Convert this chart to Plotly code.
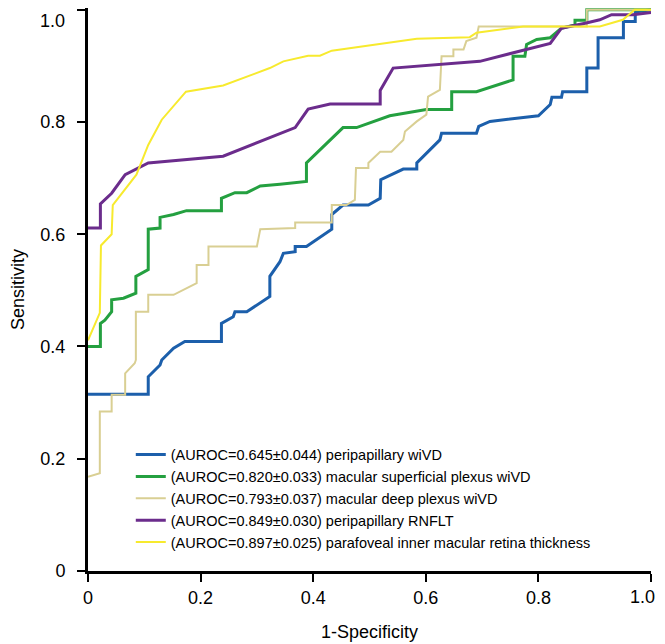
import plotly.graph_objects as go

# ---- data (1-Specificity, Sensitivity) ----
blue_x = [0, 0.107, 0.107, 0.128, 0.131, 0.152, 0.172, 0.237, 0.237, 0.258, 0.261, 0.282, 0.323, 0.323, 0.341, 0.347, 0.368, 0.368, 0.388, 0.433, 0.433, 0.453, 0.498, 0.519, 0.520, 0.560, 0.584, 0.584, 0.625, 0.628, 0.690, 0.694, 0.714, 0.800, 0.821, 0.824, 0.841, 0.843, 0.886, 0.886, 0.906, 0.906, 0.951, 0.951, 0.972, 0.972, 1.0]
blue_y = [0.315, 0.315, 0.346, 0.367, 0.376, 0.397, 0.409, 0.409, 0.441, 0.453, 0.462, 0.462, 0.489, 0.525, 0.551, 0.566, 0.569, 0.578, 0.578, 0.609, 0.635, 0.652, 0.652, 0.664, 0.697, 0.716, 0.716, 0.727, 0.768, 0.780, 0.780, 0.792, 0.801, 0.811, 0.831, 0.844, 0.844, 0.854, 0.854, 0.896, 0.896, 0.950, 0.950, 0.979, 0.979, 0.996, 1.0]

green_x = [0, 0.022, 0.022, 0.030, 0.042, 0.042, 0.063, 0.085, 0.085, 0.107, 0.107, 0.128, 0.128, 0.152, 0.175, 0.237, 0.237, 0.261, 0.282, 0.306, 0.341, 0.388, 0.388, 0.453, 0.477, 0.536, 0.601, 0.646, 0.646, 0.690, 0.755, 0.755, 0.776, 0.779, 0.797, 0.821, 0.841, 0.865, 0.865, 0.886, 0.886, 1.0]
green_y = [0.400, 0.400, 0.441, 0.447, 0.462, 0.483, 0.486, 0.495, 0.525, 0.537, 0.609, 0.611, 0.630, 0.635, 0.642, 0.642, 0.664, 0.674, 0.674, 0.686, 0.689, 0.694, 0.727, 0.790, 0.790, 0.811, 0.822, 0.822, 0.854, 0.854, 0.875, 0.917, 0.917, 0.938, 0.947, 0.950, 0.967, 0.973, 0.981, 0.981, 1.0, 1.0]

tan_x = [0, 0.021, 0.021, 0.042, 0.042, 0.066, 0.066, 0.083, 0.085, 0.085, 0.107, 0.107, 0.152, 0.193, 0.193, 0.214, 0.214, 0.300, 0.306, 0.368, 0.368, 0.433, 0.433, 0.459, 0.474, 0.476, 0.476, 0.498, 0.498, 0.519, 0.539, 0.560, 0.563, 0.584, 0.601, 0.604, 0.625, 0.628, 0.649, 0.649, 0.667, 0.672, 0.690, 0.694, 0.886, 0.886, 1.0]
tan_y = [0.168, 0.174, 0.284, 0.284, 0.314, 0.314, 0.352, 0.370, 0.376, 0.462, 0.462, 0.492, 0.492, 0.513, 0.545, 0.545, 0.578, 0.578, 0.609, 0.611, 0.621, 0.621, 0.652, 0.652, 0.661, 0.697, 0.718, 0.718, 0.727, 0.747, 0.747, 0.768, 0.783, 0.801, 0.813, 0.845, 0.857, 0.917, 0.917, 0.929, 0.929, 0.944, 0.950, 0.970, 0.970, 1.0, 1.0]

purple_x = [0, 0.022, 0.022, 0.030, 0.042, 0.066, 0.107, 0.240, 0.341, 0.368, 0.391, 0.430, 0.519, 0.519, 0.542, 0.696, 0.821, 0.841, 0.883, 0.909, 0.930, 0.968, 1.0]
purple_y = [0.611, 0.611, 0.654, 0.661, 0.673, 0.706, 0.727, 0.739, 0.780, 0.790, 0.823, 0.832, 0.832, 0.856, 0.896, 0.908, 0.940, 0.967, 0.976, 0.982, 0.991, 0.991, 0.995]

yellow_x = [0, 0.021, 0.023, 0.042, 0.044, 0.078, 0.086, 0.107, 0.131, 0.174, 0.240, 0.323, 0.347, 0.391, 0.412, 0.433, 0.501, 0.584, 0.678, 0.690, 0.773, 0.909, 0.950, 0.971, 1.0]
yellow_y = [0.411, 0.460, 0.580, 0.600, 0.652, 0.697, 0.706, 0.759, 0.804, 0.854, 0.865, 0.896, 0.908, 0.918, 0.918, 0.927, 0.937, 0.948, 0.951, 0.959, 0.970, 0.970, 0.982, 1.0, 1.0]

names = [
    "(AUROC=0.645±0.044) peripapillary wiVD",
    "(AUROC=0.820±0.033) macular superficial plexus wiVD",
    "(AUROC=0.793±0.037) macular deep plexus wiVD",
    "(AUROC=0.849±0.030) peripapillary RNFLT",
    "(AUROC=0.897±0.025) parafoveal inner macular retina thickness",
]
tick_vals = [0, 0.2, 0.4, 0.6, 0.8, 1.0]
tick_text = ["0", "0.2", "0.4", "0.6", "0.8", "1.0"]

series = [
    (blue_x, blue_y, "#1c5fab", 3),
    (green_x, green_y, "#24a040", 3),
    (tan_x, tan_y, "#d9cf93", 2),
    (purple_x, purple_y, "#6b2c8c", 3),
    (yellow_x, yellow_y, "#f7ea2e", 2),
]

fig = go.Figure()
for (xs, ys, col, w), nm in zip(series, names):
    fig.add_trace(go.Scatter(x=xs, y=ys, mode="lines", name=nm,
                             line=dict(color=col, width=w)))

# the end tick labels sit at the page edges, so they are placed as annotations
# nudged inward to stay fully visible
y_ticktext = tick_text[:-1] + [""]
x_ticktext = tick_text[:-1] + [""]
fig.add_annotation(text=tick_text[-1], xref="paper", yref="y", x=0, y=tick_vals[-1],
                   xanchor="right", yanchor="top", xshift=-21, yshift=1,
                   showarrow=False, font=dict(size=18, color="black"))
fig.add_annotation(text=tick_text[-1], xref="x", yref="paper", x=tick_vals[-1], y=0,
                   xanchor="right", yanchor="top", xshift=6, yshift=-14,
                   showarrow=False, font=dict(size=18, color="black"))

fig.update_layout(
    width=657, height=636,
    margin=dict(l=80, r=14, t=0, b=73, autoexpand=False),
    paper_bgcolor="white", plot_bgcolor="white",
    font=dict(family="Liberation Sans, Arial, sans-serif", color="black"),
    showlegend=True,
    legend=dict(x=0.076, y=0.235, xanchor="left", yanchor="top",
                bgcolor="rgba(0,0,0,0)", font=dict(size=14.5),
                tracegroupgap=0),
)
fig.update_xaxes(range=[0, 1.0], tickvals=tick_vals, ticktext=x_ticktext,
                 showgrid=False, zeroline=False, showline=True, linecolor="black",
                 linewidth=3, ticks="outside", ticklen=8, tickwidth=2, tickcolor="black",
                 tickfont=dict(size=18), automargin=False,
                 title=dict(text="1-Specificity", font=dict(size=18), standoff=19))
fig.update_yaxes(range=[0, 1.003], tickvals=tick_vals, ticktext=y_ticktext,
                 showgrid=False, zeroline=False, showline=True, linecolor="black",
                 linewidth=3, ticks="outside", ticklen=8, tickwidth=2, tickcolor="black",
                 tickfont=dict(size=18), automargin=False, ticklabelstandoff=8,
                 title=dict(text="Sensitivity", font=dict(size=18), standoff=24))

fig.write_html("out.html")
